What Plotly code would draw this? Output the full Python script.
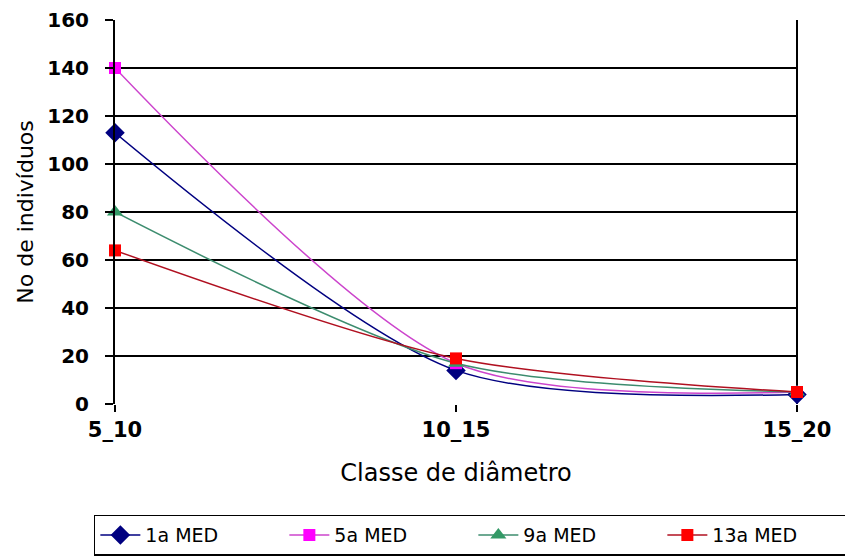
import plotly.graph_objects as go

# Diameter classes and number of individuals per measurement
classes = ["5_10", "10_15", "15_20"]
med_1a = [113, 14, 4]
med_5a = [140, 17, 5]
med_9a = [80, 17, 5]
med_13a = [64, 19, 5]
y_ticks = [0, 20, 40, 60, 80, 100, 120, 140, 160]

series = [
    ("1a MED", med_1a, "#000080", "#000080", "diamond", 15),
    ("5a MED", med_5a, "#CC44CC", "#FF00FF", "square", 12),
    ("9a MED", med_9a, "#3C8C6E", "#339966", "triangle-up", 14),
    ("13a MED", med_13a, "#B01020", "#FF0000", "square", 12),
]

fig = go.Figure()
for name, vals, lcol, mcol, sym, size in series:
    fig.add_trace(go.Scatter(
        x=[0, 1, 2], y=vals, name=name, mode="lines+markers", cliponaxis=False,
        line=dict(color=lcol, width=1.5, shape="spline", smoothing=0.8),
        marker=dict(color=mcol, symbol=sym, size=size, line=dict(width=0)),
    ))

font = "DejaVu Sans, Arial, sans-serif"
fig.update_layout(
    width=845, height=556,
    margin=dict(l=115, r=48, t=20, b=152, autoexpand=False),
    paper_bgcolor="white", plot_bgcolor="white",
    font=dict(family=font, size=20, color="black"),
    showlegend=True,
    legend=dict(
        orientation="h",
        x=-0.031, xanchor="left", y=-0.288, yanchor="top",
        bordercolor="black", borderwidth=1.5, entrywidth=134,
        font=dict(size=19, family=font), itemwidth=40,
    ),
    xaxis=dict(
        range=[0, 2], tickmode="array", tickvals=[0, 1, 2], ticktext=classes,
        showgrid=False, zeroline=False, showline=False,
        ticks="outside", ticklen=7, tickwidth=2, tickcolor="black",
        tickfont=dict(size=21, weight="bold"),
        title=dict(text="Classe de diâmetro", font=dict(size=24), standoff=22),
    ),
    yaxis=dict(
        range=[0, 160], tickmode="array", tickvals=y_ticks,
        showgrid=True, gridcolor="black", gridwidth=2,
        zeroline=False, showline=True, linecolor="black", linewidth=2,
        ticks="outside", ticklen=8, tickwidth=2, tickcolor="black",
        ticklabelstandoff=12,
        tickfont=dict(size=20, weight="bold"),
        title=dict(text="No de indivíduos", font=dict(size=22), standoff=8),
    ),
)

# Right edge of the plot area
fig.add_shape(type="line", xref="paper", yref="paper", x0=1, x1=1, y0=0, y1=1,
              line=dict(color="black", width=2), layer="below")

fig.write_html("out.html")
